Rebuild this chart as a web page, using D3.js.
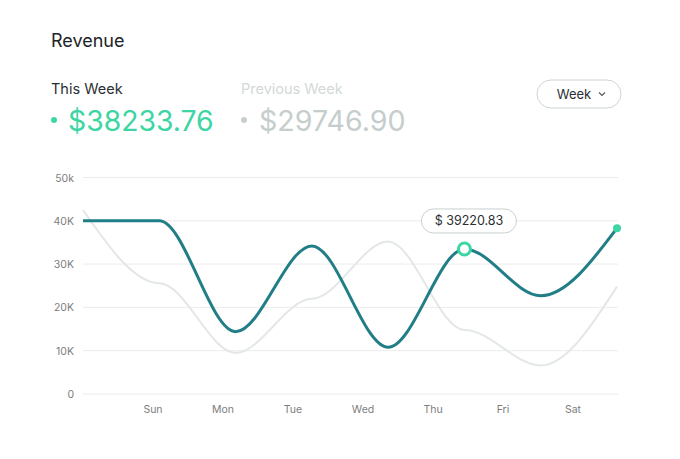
<!DOCTYPE html>
<html>
<head>
<meta charset="utf-8">
<script src="https://cdn.jsdelivr.net/npm/d3@7"></script>
<style>
  html, body { margin: 0; padding: 0; background: #fff; }
  svg { display: block; font-family: Inter, "Noto Sans", sans-serif; }
</style>
</head>
<body>
<div id="chart"></div>
<script>
// data
const days = ["Sun", "Mon", "Tue", "Wed", "Thu", "Fri", "Sat"];
const thisWeek = [40000, 40000, 14400, 34200, 10800, 33500, 22700, 38300];
const prevWeek = [42500, 25600, 9500, 22000, 35200, 14800, 6600, 24800];
const yTicks = [0, 10000, 20000, 30000, 40000, 50000];
const yTickLabels = ["0", "10K", "20K", "30K", "40K", "50k"];
const highlightIndex = 5;
const tooltipValue = "$ 39220.83";
const totalThis = "$38233.76";
const totalPrev = "$29746.90";

const width = 680, height = 459;
const green = "#3dd5a3", teal = "#217e86";

// smooth curve: flat tangents at inner points, free slope at the ends
function curveSmooth(context) {
  return {
    lineStart() { this._x = []; this._y = []; },
    point(px, py) { this._x.push(+px); this._y.push(+py); },
    lineEnd() {
      const xs = this._x, ys = this._y, n = xs.length;
      if (!n) return;
      const m = new Array(n).fill(0);
      if (n > 1) {
        m[0] = 1.5 * (ys[1] - ys[0]) / (xs[1] - xs[0]);
        m[n - 1] = 1.5 * (ys[n - 1] - ys[n - 2]) / (xs[n - 1] - xs[n - 2]);
      }
      context.moveTo(xs[0], ys[0]);
      for (let i = 0; i < n - 1; i++) {
        const h = (xs[i + 1] - xs[i]) / 3;
        context.bezierCurveTo(xs[i] + h, ys[i] + m[i] * h,
          xs[i + 1] - h, ys[i + 1] - m[i + 1] * h,
          xs[i + 1], ys[i + 1]);
      }
    }
  };
}

const svg = d3.select("#chart").append("svg")
  .attr("width", width)
  .attr("height", height);

// header
svg.append("text").attr("x", 51).attr("y", 47)
  .attr("font-size", 18).attr("fill", "#1d2327").text("Revenue");

svg.append("text").attr("x", 51).attr("y", 94)
  .attr("font-size", 14.5).attr("fill", "#2a2f33").text("This Week");
svg.append("circle").attr("cx", 54).attr("cy", 120).attr("r", 3).attr("fill", green);
svg.append("text").attr("x", 68).attr("y", 131)
  .attr("font-size", 28.3).attr("fill", green).text(totalThis);

svg.append("text").attr("x", 241).attr("y", 94)
  .attr("font-size", 14.5).attr("fill", "#d3d9d9").text("Previous Week");
svg.append("circle").attr("cx", 244).attr("cy", 120).attr("r", 3).attr("fill", "#c5cdcd");
svg.append("text").attr("x", 259).attr("y", 131)
  .attr("font-size", 28.6).attr("fill", "#c6cdcd").text(totalPrev);

// week dropdown
const btn = svg.append("g").attr("transform", "translate(537,80)");
btn.append("rect").attr("width", 84).attr("height", 28).attr("rx", 14)
  .attr("fill", "#fff").attr("stroke", "#cdd4d4");
btn.append("text").attr("x", 37).attr("y", 18.5).attr("text-anchor", "middle")
  .attr("font-size", 13).attr("fill", "#2a2f33").text("Week");
btn.append("path").attr("d", "M62,12.5 L65,15.5 L68,12.5")
  .attr("fill", "none").attr("stroke", "#555").attr("stroke-width", 1.1);

// scales
const x = d3.scalePoint().domain(d3.range(thisWeek.length)).range([83, 617]);
const xLabel = d3.scaleLinear().domain([0, 7]).range([83, 573]);
const y = d3.scaleLinear().domain([0, 50000]).range([394, 177.5]);

// grid
svg.append("g").selectAll("line").data(yTicks).join("line")
  .attr("x1", 83).attr("x2", 618)
  .attr("y1", d => y(d)).attr("y2", d => y(d))
  .attr("stroke", "#ececec").attr("stroke-width", 1);

svg.append("g").selectAll("text").data(yTicks).join("text")
  .attr("x", 74).attr("y", d => y(d) + 4)
  .attr("text-anchor", "end").attr("font-size", 10.5).attr("fill", "#7d7d7d")
  .text((d, i) => yTickLabels[i]);

svg.append("g").selectAll("text").data(days).join("text")
  .attr("x", (d, i) => xLabel(i + 1)).attr("y", 413)
  .attr("text-anchor", "middle").attr("font-size", 10.5).attr("fill", "#7d7d7d")
  .text(d => d);

// lines
const line = d3.line()
  .x((d, i) => x(i))
  .y(d => y(d))
  .curve(curveSmooth);

svg.append("path").datum(prevWeek).attr("d", line)
  .attr("fill", "none").attr("stroke", "#e3e7e7").attr("stroke-width", 2);

svg.append("path").datum(thisWeek).attr("d", line)
  .attr("fill", "none").attr("stroke", teal).attr("stroke-width", 3);

// end dot
const last = thisWeek.length - 1;
svg.append("circle").attr("cx", x(last)).attr("cy", y(thisWeek[last]))
  .attr("r", 4).attr("fill", green);

// highlighted point + tooltip
const hx = x(highlightIndex), hy = y(thisWeek[highlightIndex]);
svg.append("circle").attr("cx", hx).attr("cy", hy).attr("r", 6)
  .attr("fill", "#fff").attr("stroke", green).attr("stroke-width", 3);

const tip = svg.append("g").attr("transform", `translate(${hx + 4},${hy - 28})`);
tip.append("rect").attr("x", -47).attr("y", -12).attr("width", 95).attr("height", 24)
  .attr("rx", 12).attr("fill", "#fff").attr("stroke", "#c9d0d0");
tip.append("text").attr("x", 0.5).attr("y", 4.5).attr("text-anchor", "middle")
  .attr("font-size", 12.5).attr("fill", "#2a2f33").text(tooltipValue);
</script>
</body>
</html>
